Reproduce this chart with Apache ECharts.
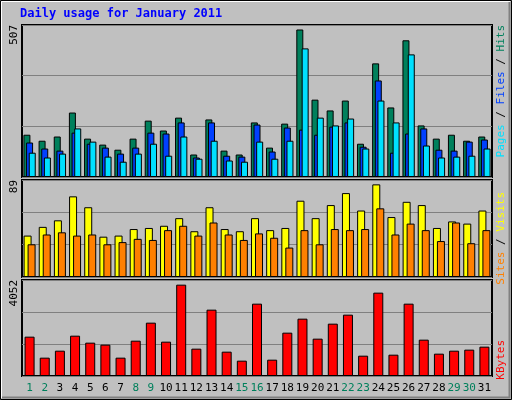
<!DOCTYPE html>
<html><head><meta charset="utf-8">
<script src="https://cdn.jsdelivr.net/npm/echarts@6/dist/echarts.min.js"></script>
<style>html,body{margin:0;padding:0;background:#c0c0c0}#c{width:512px;height:400px}</style>
</head><body><div id="c"></div>
<script>
const days = ['1','2','3','4','5','6','7','8','9','10','11','12','13','14','15','16','17','18','19','20','21','22','23','24','25','26','27','28','29','30','31'];
const weekends = ['1','2','8','9','15','16','22','23','29','30'];
const hits =  [141,121,135,215,128,108,91,128,188,155,198,75,192,88,75,182,98,178,492,258,222,255,111,379,232,456,172,128,141,121,135];
const files = [115,95,88,148,111,98,78,98,148,145,182,65,182,71,68,175,85,165,158,141,168,182,101,322,81,145,162,91,88,118,125];
const pages = [81,65,78,162,118,68,51,78,111,71,135,61,121,55,51,118,61,121,429,198,172,195,95,255,182,409,105,65,68,71,95];
const visits = [38,46,52,74,64,37,38,44,45,47,54,42,64,44,42,54,43,45,70,54,66,77,61,85,55,69,66,45,51,49,61];
const sites =  [30,39,41,38,39,30,32,35,34,43,47,38,50,39,34,40,36,27,43,30,44,43,44,63,39,49,43,33,50,31,43];
const kbytes = [1660,774,1069,1702,1407,1323,774,1491,2251,1449,3855,1154,2800,1027,647,3053,689,1829,2420,1576,2209,2589,858,3518,900,3053,1534,943,1069,1112,1238];
const maxLabels = ['507','89','4052'];
const maxVals = [507,89,4052];

const mono = 'DejaVu Sans Mono';
const grids = [
  {left:22, top:25, width:470, height:152},
  {left:22, top:180, width:470, height:97},
  {left:22, top:280, width:470, height:96}
];
const bs = {borderColor:'#000', borderWidth:1};
function xa(i){return {type:'category', gridIndex:i, data:days, boundaryGap:true,
  axisLine:{show:false}, axisTick:{show:false},
  axisLabel:{show:i===2, interval:0, hideOverlap:false, margin:7, fontFamily:mono, fontSize:11,
    color:(v)=>weekends.includes(v)?'#00805c':'#000'}};}
function ya(i){return {type:'value', gridIndex:i, min:0, max:maxVals[i], interval:maxVals[i]/3,
  axisLabel:{show:false}, axisLine:{show:false}, axisTick:{show:false},
  splitLine:{lineStyle:{color:'#808080', width:1}}};}
const chart = echarts.init(document.getElementById('c'));
chart.setOption({
  backgroundColor:'#c0c0c0', animation:false,
  grid: grids.map(g=>Object.assign({show:true, borderColor:'#000', borderWidth:2, backgroundColor:'#c0c0c0'}, g)),
  xAxis:[xa(0),xa(1),xa(2)],
  yAxis:[ya(0),ya(1),ya(2)],
  series:[
    {type:'bar', xAxisIndex:0, yAxisIndex:0, data:hits, barWidth:7, barGap:'-62%', itemStyle:Object.assign({color:'#00805c'},bs)},
    {type:'bar', xAxisIndex:0, yAxisIndex:0, data:files, barWidth:7, barGap:'-62%', itemStyle:Object.assign({color:'#0040ff'},bs)},
    {type:'bar', xAxisIndex:0, yAxisIndex:0, data:pages, barWidth:7, barGap:'-62%', itemStyle:Object.assign({color:'#00e0ff'},bs)},
    {type:'bar', xAxisIndex:1, yAxisIndex:1, data:visits, barWidth:8, barGap:'-50%', itemStyle:Object.assign({color:'#ffff00'},bs)},
    {type:'bar', xAxisIndex:1, yAxisIndex:1, data:sites, barWidth:8, barGap:'-50%', itemStyle:Object.assign({color:'#ff8000'},bs)},
    {type:'bar', xAxisIndex:2, yAxisIndex:2, data:kbytes, barWidth:10, itemStyle:Object.assign({color:'#ff0000'},bs)}
  ],
  graphic:[
    {type:'rect', shape:{x:0.5,y:0.5,width:511,height:399}, style:{fill:'none', stroke:'#000', lineWidth:1}, silent:true},
    {type:'polyline', shape:{points:[[1.5,398],[1.5,1.5],[510,1.5]]}, style:{stroke:'#fff', lineWidth:1, fill:'none'}},
    {type:'polyline', shape:{points:[[2,397.5],[509.5,397.5],[509.5,2]]}, style:{stroke:'#808080', lineWidth:2, fill:'none'}},
    {type:'text', left:20, top:8, style:{text:'Daily usage for January 2011', fill:'#0000ff', font:'bold 12px '+mono}},
    {type:'text', x:9, y:25, rotation:Math.PI/2, style:{text:maxLabels[0], fill:'#000', font:'11px '+mono, align:'right', verticalAlign:'top'}},
    {type:'text', x:9, y:180, rotation:Math.PI/2, style:{text:maxLabels[1], fill:'#000', font:'11px '+mono, align:'right', verticalAlign:'top'}},
    {type:'text', x:9, y:280, rotation:Math.PI/2, style:{text:maxLabels[2], fill:'#000', font:'11px '+mono, align:'right', verticalAlign:'top'}},
    {type:'text', x:496, y:25, rotation:Math.PI/2, style:{text:'{a|Pages}{s| / }{b|Files}{s| / }{c|Hits}', font:'11px '+mono, align:'right', verticalAlign:'top',
      rich:{a:{fill:'#00e0ff',font:'11px '+mono},b:{fill:'#0040ff',font:'11px '+mono},c:{fill:'#00805c',font:'11px '+mono},s:{fill:'#000',font:'11px '+mono}}}},
    {type:'text', x:496, y:192, rotation:Math.PI/2, style:{text:'{a|Sites}{s| / }{b|Visits}', font:'11px '+mono, align:'right', verticalAlign:'top',
      rich:{a:{fill:'#ff8000',font:'11px '+mono},b:{fill:'#ffff00',font:'11px '+mono},s:{fill:'#000',font:'11px '+mono}}}},
    {type:'text', x:496, y:340, rotation:Math.PI/2, style:{text:'KBytes', fill:'#ff0000', font:'11px '+mono, align:'right', verticalAlign:'top'}}
  ]
});
</script></body></html>
